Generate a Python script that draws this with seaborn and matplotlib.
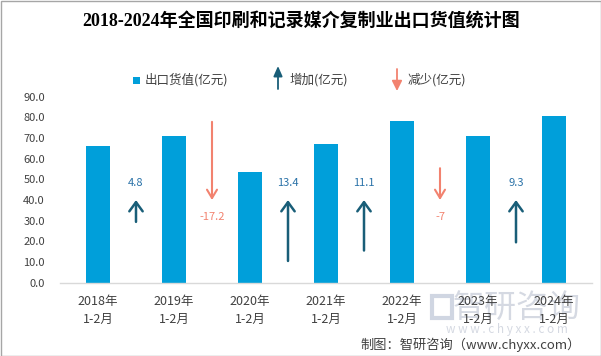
import matplotlib
matplotlib.use("Agg")
import matplotlib.pyplot as plt
import seaborn as sns
import pandas as pd
from matplotlib.patches import Rectangle

# ---- data ----
years = ["2018年", "2019年", "2020年", "2021年", "2022年", "2023年", "2024年"]
period = "1-2月"
export_values = [66.1, 70.9, 53.7, 67.1, 78.2, 71.2, 80.5]
changes = [4.8, -17.2, 13.4, 11.1, -7, 9.3]
y_ticks = [0, 10, 20, 30, 40, 50, 60, 70, 80, 90]

title = "2018-2024年全国印刷和记录媒介复制业出口货值统计图"
legend_labels = ["出口货值(亿元)", "增加(亿元)", "减少(亿元)"]
source_text = "制图：智研咨询（www.chyxx.com）"

# ---- style ----
BAR = "#009FDA"
UP = "#195E78"
UP_TXT = "#2A72A8"
DOWN = "#F2826F"
TXT = "#404040"

sns.set_theme(style="white")
plt.rcParams["font.family"] = ["Noto Sans CJK SC", "DejaVu Sans"]

W, H = 601, 356
fig = plt.figure(figsize=(W / 100, H / 100), dpi=100)
fig.patch.set_facecolor("white")

ax = fig.add_axes([60 / W, (H - 282.7) / H, 532 / W, 186 / H])
df = pd.DataFrame({"cat": [f"{y}\n{period}" for y in years], "val": export_values})
sns.barplot(data=df, x="cat", y="val", color=BAR, width=0.316, saturation=1,
            ax=ax, edgecolor="none")
ax.set_xlim(-0.5, len(years) - 0.5)
ax.set_ylim(0, 90)
ax.set_yticks(y_ticks)
ax.set_yticklabels([f"{v:.1f}" for v in y_ticks])
ax.set_xlabel("")
ax.set_ylabel("")
for s in ["top", "right", "left"]:
    ax.spines[s].set_visible(False)
ax.spines["bottom"].set_color("#D9D9D9")
ax.spines["bottom"].set_linewidth(1)
ax.tick_params(axis="y", length=0, pad=11, labelsize=8, labelcolor=TXT)
ax.tick_params(axis="x", length=0, pad=9, labelsize=9, labelcolor=TXT)
for lab in ax.get_xticklabels():
    lab.set_linespacing(1.45)
ax.set_facecolor("white")

# ---- change arrows between bars ----
anchor = 40.0
scale = 2.2
for i, d in enumerate(changes):
    x = i + 0.5
    length = scale * abs(d)
    if d >= 0:
        tip, tail = anchor, anchor - length
        ax.annotate("", xy=(x, tip), xytext=(x, tail),
                    arrowprops=dict(arrowstyle="->,head_length=0.55,head_width=0.4",
                                    color=UP, lw=1.8, shrinkA=0, shrinkB=0))
        ax.text(x, tip + 8.3, f"{d:g}", ha="center", va="center",
                fontsize=8, color=UP_TXT)
    else:
        tip, tail = anchor, anchor + length
        ax.annotate("", xy=(x, tip), xytext=(x, tail),
                    arrowprops=dict(arrowstyle="->,head_length=0.5,head_width=0.3",
                                    color=DOWN, lw=1.5, shrinkA=0, shrinkB=0))
        ax.text(x, tip - 8, f"{d:g}", ha="center", va="center",
                fontsize=8, color=DOWN)

# ---- overlay in pixel coordinates ----
ov = fig.add_axes([0, 0, 1, 1], zorder=-1)
ov.set_xlim(0, W)
ov.set_ylim(H, 0)
ov.axis("off")
ov.patch.set_alpha(0)

top = fig.add_axes([0, 0, 1, 1], zorder=5)
top.set_xlim(0, W)
top.set_ylim(H, 0)
top.axis("off")
top.patch.set_alpha(0)

top.text(301, 22, title, ha="center", va="center", fontsize=13, fontweight="bold",
         color="#000000", family=["Liberation Serif", "Noto Sans CJK SC"])

# legend
top.add_patch(Rectangle((133, 77), 6.5, 6.5, color=BAR, lw=0))
top.text(145, 80, legend_labels[0], ha="left", va="center", fontsize=9, color=TXT)
top.annotate("", xy=(278, 66), xytext=(278, 89),
             arrowprops=dict(arrowstyle="-|>,head_length=0.5,head_width=0.22",
                             color=UP, lw=1.3, shrinkA=0, shrinkB=0))
top.text(290, 80, legend_labels[1], ha="left", va="center", fontsize=9, color=TXT)
top.annotate("", xy=(397, 91), xytext=(397, 69),
             arrowprops=dict(arrowstyle="-|>,head_length=0.5,head_width=0.25",
                             color=DOWN, lw=1.3, shrinkA=0, shrinkB=0))
top.text(408, 80, legend_labels[2], ha="left", va="center", fontsize=9, color=TXT)

# watermark
ov.text(517, 308, "智研咨询", ha="center", va="center", fontsize=23,
        color="#D5D9E2")
ov.text(507, 329, "w w w . c h y x x . c o m", ha="center", va="center",
        fontsize=8.5, color="#D5D9E2")
ov.add_patch(Rectangle((432, 296), 20, 22, fill=False, ec="#D0D6E2", lw=3))

# source
top.text(581, 345, source_text, ha="right", va="center", fontsize=9.5, color=TXT)

# border
top.add_patch(Rectangle((0.5, 0.5), W - 1, H - 1, fill=False, ec="#A6A6A6", lw=1))

fig.savefig("out.png", dpi=100, facecolor="white")
